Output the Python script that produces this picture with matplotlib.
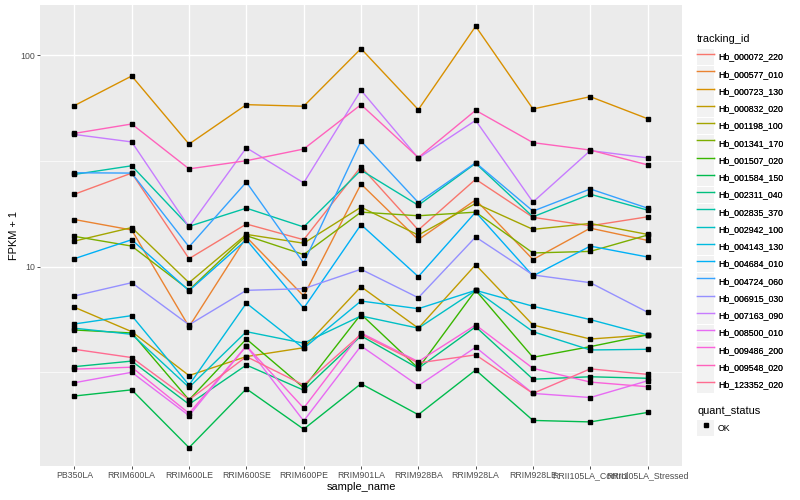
import matplotlib
matplotlib.use("Agg")
import matplotlib.pyplot as plt
from matplotlib.lines import Line2D
from matplotlib.patches import Rectangle
from matplotlib.legend_handler import HandlerLine2D

plt.rcParams['font.family'] = ['Liberation Sans', 'DejaVu Sans']

samples = ["PB350LA", "RRIM600LA", "RRIM600LE", "RRIM600SE", "RRIM600PE", "RRIM901LA",
           "RRIM928BA", "RRIM928LA", "RRIM928LE", "RRII105LA_Control", "RRII105LA_Stressed"]

tracking_ids = ["Hb_000072_220", "Hb_000577_010", "Hb_000723_130", "Hb_000832_020",
                "Hb_001198_100", "Hb_001341_170", "Hb_001507_020", "Hb_001584_150",
                "Hb_002311_040", "Hb_002835_370", "Hb_002942_100", "Hb_004143_130",
                "Hb_004684_010", "Hb_004724_060", "Hb_006915_030", "Hb_007163_090",
                "Hb_008500_010", "Hb_009486_200", "Hb_009548_020", "Hb_123352_020"]

colors = ["#F8766D", "#EA8331", "#D89000", "#C09B00", "#A3A500", "#7CAE00", "#39B600",
          "#00BB4E", "#00BF7D", "#00C1A3", "#00BFC4", "#00BAE0", "#00B0F6", "#35A2FF",
          "#9590FF", "#C77CFF", "#E76BF3", "#FA62DB", "#FF62BC", "#FF6C91"]

# FPKM + 1 values per gene (order of samples)
Hb_000072_220 = [22.0, 27.7, 10.9, 15.9, 13.4, 29.7, 14.9, 25.9, 17.1, 15.6, 17.2]
Hb_000577_010 = [16.7, 14.9, 5.19, 13.8, 7.26, 24.6, 13.4, 20.7, 10.8, 15.2, 13.3]
Hb_000723_130 = [57.8, 79.8, 38.0, 58.4, 57.4, 107.5, 55.3, 137.2, 55.7, 63.7, 50.1]
Hb_000832_020 = [6.42, 4.92, 3.05, 3.75, 4.13, 8.03, 5.11, 10.2, 5.29, 4.54, 4.75]
Hb_001198_100 = [13.2, 15.3, 8.39, 14.2, 12.9, 19.1, 14.1, 19.9, 15.0, 16.0, 14.2]
Hb_001341_170 = [13.9, 12.5, 7.75, 14.0, 11.4, 18.1, 17.4, 18.1, 11.6, 11.8, 14.1]
Hb_001507_020 = [5.01, 4.85, 2.34, 4.54, 2.67, 5.95, 3.30, 7.72, 3.72, 4.18, 4.75]
Hb_001584_150 = [2.44, 2.61, 1.39, 2.64, 1.70, 2.79, 1.99, 3.24, 1.87, 1.84, 2.04]
Hb_002311_040 = [3.36, 3.57, 2.23, 3.42, 2.60, 4.70, 3.30, 5.19, 2.93, 3.01, 2.96]
Hb_002835_370 = [27.3, 30.0, 15.5, 18.9, 15.4, 28.6, 19.5, 30.8, 17.2, 22.0, 18.5]
Hb_002942_100 = [5.11, 4.78, 2.68, 4.92, 4.34, 5.84, 5.11, 7.72, 4.92, 4.03, 4.06]
Hb_004143_130 = [5.35, 5.86, 2.75, 6.71, 4.10, 6.87, 6.32, 7.72, 6.49, 5.61, 4.75]
Hb_004684_010 = [10.9, 13.4, 7.69, 13.4, 6.35, 15.8, 8.96, 18.1, 9.03, 12.5, 11.1]
Hb_004724_060 = [27.8, 27.7, 12.4, 25.1, 10.4, 39.3, 20.1, 31.0, 18.3, 23.3, 18.9]
Hb_006915_030 = [7.26, 8.39, 5.30, 7.72, 7.86, 9.71, 7.12, 13.8, 9.13, 8.39, 6.08]
Hb_007163_090 = [42.2, 38.9, 15.4, 36.5, 24.9, 68.3, 32.6, 49.2, 20.2, 35.4, 32.7]
Hb_008500_010 = [2.82, 3.16, 1.97, 4.21, 1.86, 4.21, 2.73, 4.15, 2.51, 2.40, 2.88]
Hb_009486_200 = [3.27, 3.34, 2.02, 4.21, 2.14, 4.85, 3.55, 5.29, 3.30, 2.84, 2.70]
Hb_009548_020 = [42.7, 47.3, 29.0, 31.7, 36.0, 58.4, 32.8, 54.9, 38.6, 35.6, 30.3]
Hb_123352_020 = [4.06, 3.71, 2.34, 3.75, 2.75, 4.78, 3.50, 3.82, 2.51, 3.28, 3.09]

series = [Hb_000072_220, Hb_000577_010, Hb_000723_130, Hb_000832_020, Hb_001198_100,
          Hb_001341_170, Hb_001507_020, Hb_001584_150, Hb_002311_040, Hb_002835_370,
          Hb_002942_100, Hb_004143_130, Hb_004684_010, Hb_004724_060, Hb_006915_030,
          Hb_007163_090, Hb_008500_010, Hb_009486_200, Hb_009548_020, Hb_123352_020]

quant_levels = ["OK"]

fig = plt.figure(figsize=(8, 5), dpi=100)
ax = fig.add_axes([40 / 800, 34 / 500, 642 / 800, 461 / 500])
ax.set_facecolor("#EBEBEB")
for s in ax.spines.values():
    s.set_visible(False)

xs = list(range(len(samples)))
handles = []
for vals, col, name in zip(series, colors, tracking_ids):
    ax.plot(xs, vals, color=col, lw=1.0, zorder=3, solid_capstyle='butt')
    handles.append(Line2D([], [], color=col, lw=1.0, label=name))
for vals in series:
    ax.plot(xs, vals, linestyle='none', marker='s', markersize=2.3, color='black', zorder=4)

ax.set_yscale('log')
ax.set_ylim(1.138, 173)
ax.set_xlim(-0.6, len(samples) - 0.4)
ax.set_yticks([10, 100])
ax.set_yticklabels(["10", "100"])
ax.set_yticks([10 ** 0.5, 10 ** 1.5], minor=True)
ax.set_yticklabels([], minor=True)
ax.set_xticks(xs)
ax.set_xticklabels(samples)

ax.grid(True, which='major', color='white', lw=1.0, zorder=0)
ax.grid(True, which='minor', axis='y', color='white', lw=0.5, zorder=0)
ax.set_axisbelow(True)
ax.tick_params(axis='both', which='major', length=2.0, width=0.6, color='#333333',
               labelsize=6.3, labelcolor='#4D4D4D', pad=1.6)
ax.tick_params(axis='y', which='minor', length=0)

ax.set_xlabel("sample_name", fontsize=7.9, color='black', labelpad=1.5)
ax.set_ylabel("FPKM + 1", fontsize=7.9, color='black', labelpad=1)


class KeyHandler(HandlerLine2D):
    def create_artists(self, legend, orig_handle, xdescent, ydescent, width, height,
                       fontsize, trans):
        rect = Rectangle((-xdescent, -ydescent), width, height, facecolor='#F2F2F2',
                         edgecolor='none', transform=trans)
        arts = super().create_artists(legend, orig_handle, xdescent, ydescent, width,
                                      height, fontsize, trans)
        return [rect] + list(arts)


leg_kw = dict(loc='upper left', frameon=False, fontsize=6.3, handlelength=1.95,
              handleheight=2.61, labelspacing=0.03, handletextpad=0.45,
              borderaxespad=0, borderpad=0, handler_map={Line2D: KeyHandler()})

fig.text(697 / 800, 1 - 39 / 500, "tracking_id", fontsize=7.9, va='center', ha='left')
leg1 = fig.legend(handles=handles, bbox_to_anchor=(697 / 800, 1 - 48.5 / 500), **leg_kw)
fig.add_artist(leg1)

ok_handle = Line2D([], [], linestyle='none', marker='s', markersize=2.6, color='black',
                   label=quant_levels[0])
fig.text(697 / 800, 1 - 411 / 500, "quant_status", fontsize=7.9, va='center', ha='left')
leg2 = fig.legend(handles=[ok_handle], bbox_to_anchor=(697 / 800, 1 - 419.5 / 500), **leg_kw)

fig.savefig("out.png", dpi=100)
